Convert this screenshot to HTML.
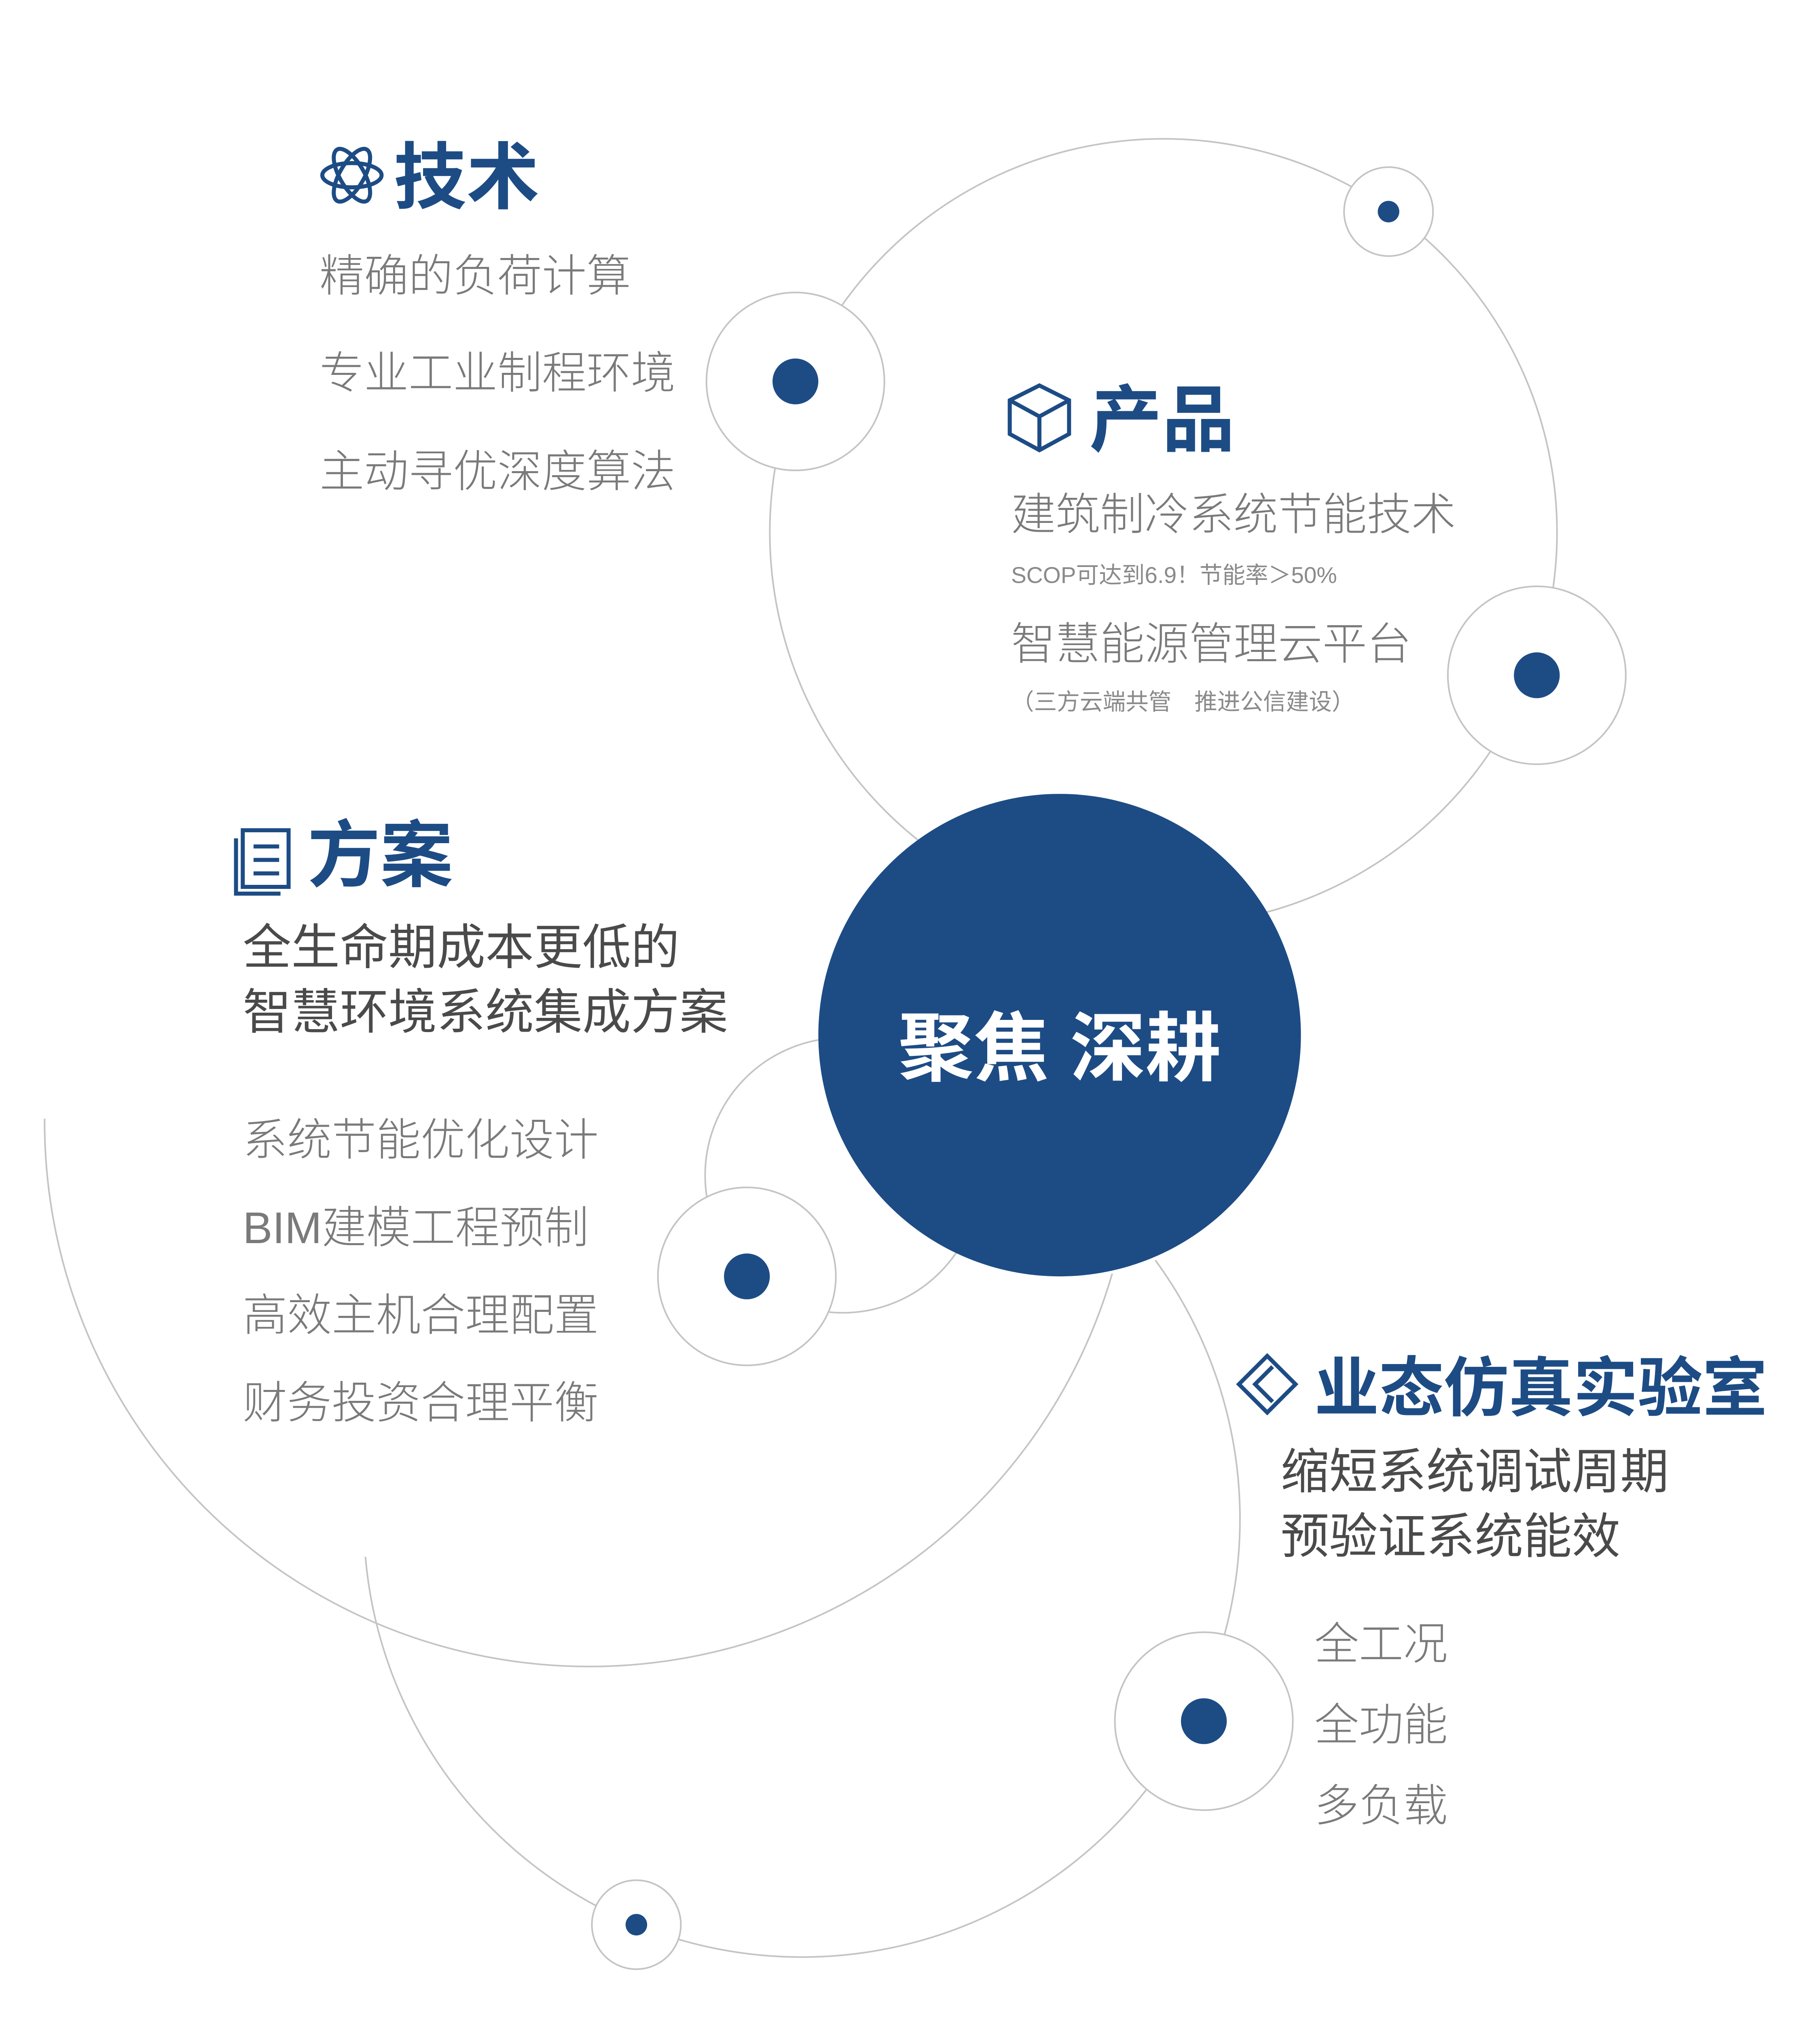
<!DOCTYPE html>
<html><head><meta charset="utf-8">
<style>
html,body{margin:0;padding:0;background:#fff;overflow:hidden;}
svg{display:block;}
text{font-family:"Liberation Sans","Noto Sans CJK SC",sans-serif;}
.g{fill:#7a7a7a;font-size:33px;font-weight:300;}
.d{fill:#4a4a4a;font-size:36px;font-weight:400;}
.h{fill:#1d4c85;font-weight:700;}
.s{fill:#8a8a8a;font-size:17px;}
</style></head>
<body>
<svg width="4500" height="5216" viewBox="0 0 1350 1565" xmlns="http://www.w3.org/2000/svg">
<g fill="none" stroke="#c4c4c4" stroke-width="1.2">
  <circle cx="863" cy="395" r="292"/>
  <path d="M33 830 A404 404 0 0 0 825 945"/>
  <circle cx="625" cy="872" r="102"/>
  <path d="M271 1155 A325 325 0 1 0 857 935"/>
</g>
<g fill="#fff" stroke="#c4c4c4" stroke-width="1.2">
  <circle cx="590" cy="283" r="66"/>
  <circle cx="1030" cy="157" r="33"/>
  <circle cx="1140" cy="501" r="66"/>
  <circle cx="554" cy="947" r="66"/>
  <circle cx="893" cy="1277" r="66"/>
  <circle cx="472" cy="1428" r="33"/>
</g>
<g fill="#1d4c85">
  <circle cx="590" cy="283" r="17"/>
  <circle cx="1030" cy="157" r="8"/>
  <circle cx="1140" cy="501" r="17"/>
  <circle cx="554" cy="947" r="17"/>
  <circle cx="893" cy="1277" r="17"/>
  <circle cx="472" cy="1428" r="8"/>
  <circle cx="786" cy="768" r="179"/>
</g>
<text x="786" y="778" text-anchor="middle" dominant-baseline="central" fill="#fff" font-size="56" font-weight="700">聚焦 深耕</text>

<g fill="none" stroke="#1d4c85" stroke-width="3">
  <ellipse cx="261" cy="130" rx="22" ry="9"/>
  <ellipse cx="261" cy="130" rx="22" ry="9" transform="rotate(60 261 130)"/>
  <ellipse cx="261" cy="130" rx="22" ry="9" transform="rotate(-60 261 130)"/>
  <path d="M771 286 L793 297 L793 322 L771 334 L749 322 L749 297 Z M749 297 L771 309 L793 297 M771 309 L771 334"/>
  <rect x="180" y="616" width="34" height="42"/>
  <path d="M175 622 L175 663 L208 663 M188 628 L207 628 M188 638 L207 638 M188 648 L207 648"/>
  <path d="M940 1006 L961 1027 L940 1048 L919 1027 Z M944 1014 L931 1027 L944 1040"/>
</g>

<g dominant-baseline="central">
  <text class="h" x="292" y="132" font-size="54">技术</text>
  <text class="g" x="237" y="205">精确的负荷计算</text>
  <text class="g" x="237" y="277">专业工业制程环境</text>
  <text class="g" x="237" y="350">主动寻优深度算法</text>

  <text class="h" x="808" y="312" font-size="54">产品</text>
  <text class="g" x="750" y="382">建筑制冷系统节能技术</text>
  <text class="s" x="750" y="427">SCOP可达到6.9！节能率＞50%</text>
  <text class="g" x="750" y="478">智慧能源管理云平台</text>
  <text class="s" x="750" y="521">（三方云端共管　推进公信建设）</text>

  <text class="h" x="228" y="635" font-size="54">方案</text>
  <text class="d" x="180" y="703">全生命期成本更低的</text>
  <text class="d" x="180" y="751">智慧环境系统集成方案</text>
  <text class="g" x="180" y="846">系统节能优化设计</text>
  <text class="g" x="180" y="911">BIM建模工程预制</text>
  <text class="g" x="180" y="976">高效主机合理配置</text>
  <text class="g" x="180" y="1041">财务投资合理平衡</text>

  <text class="h" x="975" y="1030" font-size="48">业态仿真实验室</text>
  <text class="d" x="950" y="1092">缩短系统调试周期</text>
  <text class="d" x="950" y="1140">预验证系统能效</text>
  <text class="g" x="975" y="1220">全工况</text>
  <text class="g" x="975" y="1280">全功能</text>
  <text class="g" x="975" y="1340">多负载</text>
</g>
</svg>
</body></html>
